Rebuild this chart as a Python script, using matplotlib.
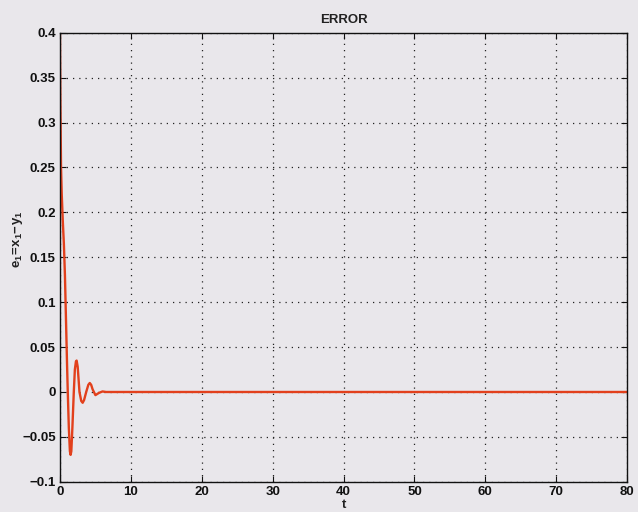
import matplotlib
matplotlib.use("Agg")
import matplotlib.pyplot as plt
import numpy as np

# Synchronisation error e1 = x1 - y1 over time
t = [0.0, 0.05, 0.15, 0.25, 0.4, 0.55, 0.7, 0.85, 1.0, 1.1, 1.25, 1.4, 1.5,
     1.6, 1.75, 1.95, 2.1, 2.25, 2.35, 2.5, 2.75, 3.0, 3.2, 3.4, 3.7, 4.0,
     4.2, 4.4, 4.6, 5.0, 5.5, 6.0, 6.5, 7.5, 10.0, 80.0]
e1 = [0.4, 0.33, 0.25, 0.22, 0.19, 0.165, 0.13, 0.08, 0.03, 0.0, -0.04,
      -0.066, -0.070, -0.066, -0.04, 0.0, 0.025, 0.034, 0.035, 0.028, 0.0,
      -0.010, -0.012, -0.009, 0.0, 0.008, 0.010, 0.008, 0.003, -0.0035,
      -0.001, 0.0006, 0.0, 0.0, 0.0, 0.0]

xticks = [0, 10, 20, 30, 40, 50, 60, 70, 80]
yticks = [-0.1, -0.05, 0, 0.05, 0.1, 0.15, 0.2, 0.25, 0.3, 0.35, 0.4]
ytick_labels = ["\u22120.1", "\u22120.05", "0", "0.05", "0.1", "0.15", "0.2",
                "0.25", "0.3", "0.35", "0.4"]

plt.rcParams["font.family"] = ["Liberation Sans", "DejaVu Sans"]
plt.rcParams["font.weight"] = "bold"
plt.rcParams["mathtext.fontset"] = "custom"
plt.rcParams["mathtext.rm"] = "Liberation Sans:bold"
plt.rcParams["mathtext.it"] = "Liberation Sans:bold"
plt.rcParams["mathtext.bf"] = "Liberation Sans:bold"

bg = "#e9e7eb"
fig = plt.figure(figsize=(6.38, 5.12), dpi=100, facecolor=bg)
ax = fig.add_axes([0.094, 0.059, 0.889, 0.877], facecolor=bg)

ax.plot(t, e1, color="#e2401c", linewidth=1.7)

ax.set_xlim(0, 80)
ax.set_ylim(-0.1, 0.4)
ax.set_xticks(xticks)
ax.set_yticks(yticks)
ax.set_yticklabels(ytick_labels)
ax.grid(True, linestyle=(0, (1, 4)), color="#222222", linewidth=0.9)
ax.tick_params(direction="in", top=True, right=True, length=4,
               labelsize=9.5, colors="#111111", pad=3)
for s in ax.spines.values():
    s.set_linewidth(1.0)
    s.set_color("#111111")

ax.set_title("ERROR", fontsize=9.5, pad=7, fontweight="bold", color="#222222")
ax.set_xlabel("t", fontsize=9.5, labelpad=1, fontweight="bold", color="#222222")
ax.set_ylabel(r"$\mathbf{e_1\!=\!x_1\!-\!y_1}$", fontsize=9.5, color="#222222")
ax.yaxis.set_label_coords(-0.062, 0.54)

fig.savefig("out.png", dpi=100, facecolor=bg)
